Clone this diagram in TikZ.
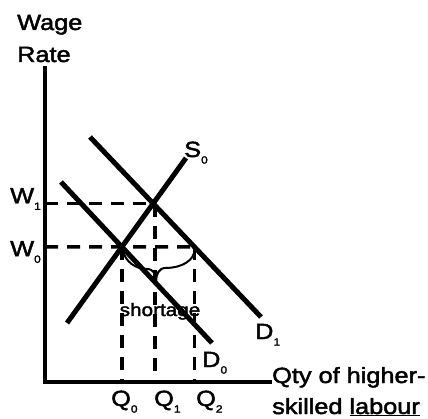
\documentclass[tikz,border=0pt]{standalone}
\usepackage{fontspec}
\setmainfont{Liberation Sans}[FakeStretch=1.15,FakeBold=2]
\usetikzlibrary{calc,decorations.pathmorphing}
\newcommand\sbx[1]{\raisebox{-0.3em}{\fontsize{10.5}{10.5}\selectfont #1}}
\begin{document}
\begin{tikzpicture}[x=1pt,y=-1pt,
  lbl/.style={inner sep=0pt,font=\fontsize{22}{24}\selectfont},
  small/.style={inner sep=0pt,font=\fontsize{18}{20}\selectfont},
  axis/.style={line width=4pt},
  curve/.style={line width=5pt},
  guide/.style={line width=3.5pt,dash pattern=on 13pt off 9pt},
  bracestyle/.style={line width=2pt}]
\useasboundingbox (0,0) rectangle (428,419);
% axes
\coordinate (Ytop) at (45,66);
\coordinate (O) at (45,382);
\coordinate (Xend) at (272,382);
\draw[axis] (Ytop) -- (O) -- (Xend);
% curves
\coordinate (Sa) at (67,323);
\coordinate (Sb) at (186,158);
\coordinate (D0a) at (61,182);
\coordinate (D0b) at (212,343);
\coordinate (D1a) at (90,137);
\coordinate (D1b) at (261,317);
\draw[curve] (Sa) -- (Sb);
\draw[curve] (D0a) -- (D0b);
\draw[curve] (D1a) -- (D1b);
% intersections
\coordinate (E0) at (intersection of Sa--Sb and D0a--D0b);
\coordinate (E1) at (intersection of Sa--Sb and D1a--D1b);
\coordinate (E0r) at ($(E0)+(200,0)$);
\coordinate (E2) at (intersection of E0--E0r and D1a--D1b);
% dashed guides
\draw[guide] (O |- E1) -- (E1);
\draw[guide] (O |- E0) -- (E2);
\draw[guide] (E0) -- (E0 |- O);
\draw[guide] ($(E1)+(2,0)$) -- ($(E1 |- O)+(2,0)$);
\draw[guide] (E2) -- (E2 |- O);
% brace
\coordinate (Bt) at ($(E1 |- E0)+(3,34)$);
\draw[bracestyle] ($(E0)+(1,3)$) .. controls +(2,12) and +(-10,0) .. ($(Bt)+(-10,-12)$)
  .. controls +(8,0) and +(0,-6) .. (Bt)
  .. controls +(0,-6) and +(-8,0) .. ($(Bt)+(10,-13)$)
  .. controls +(16,0) and +(0,10) .. ($(E2)+(0,3)$);
% labels
\node[lbl,anchor=base west] (wage) at (17,30) {Wage};
\node[lbl,anchor=base west] (rate) at (17,62) {Rate};
\node[lbl,anchor=east] (w1) at (41,199) {W\sbx{1}};
\node[lbl,anchor=east] (w0) at (41,252) {W\sbx{0}};
\node[lbl,anchor=base west] (s0) at (184,157) {S\sbx{0}};
\node[lbl,anchor=base west] (d1) at (255,339) {D\sbx{1}};
\node[lbl,anchor=base west] (d0) at (202,367) {D\sbx{0}};
\node[small,anchor=base] (sh) at (160,316) {shortage};
\node[lbl,anchor=base west] (q0) at (111,406) {Q\sbx{0}};
\node[lbl,anchor=base west] (q1) at (154,406) {Q\sbx{1}};
\node[lbl,anchor=base west] (q2) at (196,406) {Q\sbx{2}};
\node[lbl,anchor=base west] (xl1) at (272,383) {Qty of higher-};
\node[lbl,anchor=base west] (xl2) at (272,414) {skilled \underline{labour}};
\end{tikzpicture}
\end{document}
